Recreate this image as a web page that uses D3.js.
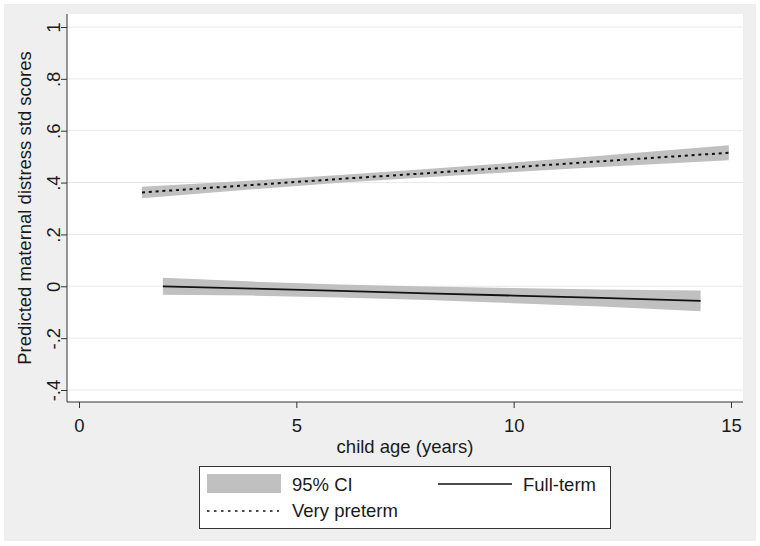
<!DOCTYPE html>
<html>
<head>
<meta charset="utf-8">
<script src="https://cdn.jsdelivr.net/npm/d3@7"></script>
<style>
  body { margin: 0; background: #fff; }
  svg text { font-family: "Liberation Sans", Arial, sans-serif; fill: #1a1a1a; }
</style>
</head>
<body>
<svg id="chart" width="760" height="546"></svg>
<script>
const svg = d3.select("#chart");

// Very preterm: predicted score and 95% CI by child age
const agePre = [1.45, 4, 6, 8, 10, 12, 14.95];
const estPre = [0.362, 0.391, 0.414, 0.436, 0.459, 0.482, 0.515];
const loPre  = [0.340, 0.374, 0.399, 0.421, 0.441, 0.460, 0.486];
const hiPre  = [0.384, 0.408, 0.429, 0.452, 0.477, 0.503, 0.544];

// Full-term
const ageFull = [1.93, 4, 6, 8, 10, 12, 14.3];
const estFull = [0.000, -0.009, -0.018, -0.027, -0.036, -0.045, -0.056];
const loFull  = [-0.033, -0.036, -0.043, -0.053, -0.065, -0.078, -0.096];
const hiFull  = [0.033, 0.018, 0.007, -0.001, -0.007, -0.012, -0.016];

const xTicks = [0, 5, 10, 15];
const yTicks = [-0.4, -0.2, 0, 0.2, 0.4, 0.6, 0.8, 1];
const yTickLabels = ["-.4", "-.2", "0", ".2", ".4", ".6", ".8", "1"];

const plot = { left: 67, right: 743, top: 14, bottom: 402 };

const x = d3.scaleLinear().domain([0, 15]).range([79, 731]);
const y = d3.scaleLinear().domain([-0.4, 1]).range([390, 27]);

// outer gray graph region
svg.append("rect")
    .attr("x", 4).attr("y", 4)
    .attr("width", 752).attr("height", 537)
    .attr("fill", "#efefef");

// white plot region
svg.append("rect")
    .attr("x", plot.left).attr("y", plot.top)
    .attr("width", plot.right - plot.left).attr("height", plot.bottom - plot.top)
    .attr("fill", "#fff");

// gridlines
svg.append("g").selectAll("line")
    .data(yTicks)
    .join("line")
    .attr("x1", plot.left).attr("x2", plot.right)
    .attr("y1", d => y(d)).attr("y2", d => y(d))
    .attr("stroke", "#e8e8e8")
    .attr("stroke-width", 1);

function bandData(ages, lo, hi) {
    return ages.map((a, i) => ({ a: a, lo: lo[i], hi: hi[i] }));
}
function lineData(ages, est) {
    return ages.map((a, i) => ({ a: a, v: est[i] }));
}

const area = d3.area()
    .x(d => x(d.a))
    .y0(d => y(d.lo))
    .y1(d => y(d.hi));

const line = d3.line()
    .x(d => x(d.a))
    .y(d => y(d.v));

// CI bands
svg.append("path")
    .datum(bandData(agePre, loPre, hiPre))
    .attr("d", area)
    .attr("fill", "#c0c0c0");

svg.append("path")
    .datum(bandData(ageFull, loFull, hiFull))
    .attr("d", area)
    .attr("fill", "#c0c0c0");

// fitted lines
svg.append("path")
    .datum(lineData(ageFull, estFull))
    .attr("d", line)
    .attr("fill", "none")
    .attr("stroke", "#111")
    .attr("stroke-width", 1.8);

svg.append("path")
    .datum(lineData(agePre, estPre))
    .attr("d", line)
    .attr("fill", "none")
    .attr("stroke", "#111")
    .attr("stroke-width", 2)
    .attr("stroke-dasharray", "3,3.8");

// y axis
const yAxis = d3.axisLeft(y)
    .tickValues(yTicks)
    .tickSize(6)
    .tickFormat((d, i) => yTickLabels[i]);

const gy = svg.append("g")
    .attr("transform", `translate(${plot.left},0)`)
    .call(yAxis);
gy.select(".domain").attr("d", `M0,${plot.top}V${plot.bottom}`).attr("stroke", "#333");
gy.selectAll(".tick line").attr("stroke", "#333");
gy.selectAll(".tick text")
    .attr("x", null).attr("dy", null)
    .attr("text-anchor", "middle")
    .attr("transform", "translate(-7,0) rotate(-90)")
    .style("font-size", "18.5px")
    .style("font-family", "Liberation Sans, Arial, sans-serif")
    .attr("fill", "#1a1a1a");

// x axis
const xAxis = d3.axisBottom(x)
    .tickValues(xTicks)
    .tickSize(6)
    .tickFormat(d3.format("d"));

const gx = svg.append("g")
    .attr("transform", `translate(0,${plot.bottom})`)
    .call(xAxis);
gx.select(".domain").attr("d", `M${plot.left},0H${plot.right}`).attr("stroke", "#333");
gx.selectAll(".tick line").attr("stroke", "#333");
gx.selectAll(".tick text")
    .attr("y", 30).attr("dy", null)
    .style("font-size", "18.5px")
    .style("font-family", "Liberation Sans, Arial, sans-serif")
    .attr("fill", "#1a1a1a");

// axis titles
svg.append("text")
    .attr("x", (plot.left + plot.right) / 2 + 0)
    .attr("y", 453)
    .attr("text-anchor", "middle")
    .style("font-size", "18.5px")
    .text("child age (years)");

svg.append("text")
    .attr("transform", `translate(31,${(plot.top + plot.bottom) / 2}) rotate(-90)`)
    .attr("text-anchor", "middle")
    .style("font-size", "18.5px")
    .text("Predicted maternal distress std scores");

// legend
const legend = svg.append("g");
legend.append("rect")
    .attr("x", 199.5).attr("y", 466.5)
    .attr("width", 411).attr("height", 62)
    .attr("fill", "#fff")
    .attr("stroke", "#333")
    .attr("stroke-width", 1);

legend.append("rect")
    .attr("x", 207).attr("y", 474)
    .attr("width", 74).attr("height", 19)
    .attr("fill", "#c0c0c0");
legend.append("text")
    .attr("x", 292).attr("y", 491)
    .style("font-size", "18.5px")
    .text("95% CI");

legend.append("line")
    .attr("x1", 438).attr("x2", 512)
    .attr("y1", 484).attr("y2", 484)
    .attr("stroke", "#111")
    .attr("stroke-width", 1.5);
legend.append("text")
    .attr("x", 523).attr("y", 491)
    .style("font-size", "18.5px")
    .text("Full-term");

legend.append("line")
    .attr("x1", 207).attr("x2", 279)
    .attr("y1", 511).attr("y2", 511)
    .attr("stroke", "#111")
    .attr("stroke-width", 1.5)
    .attr("stroke-dasharray", "2.5,4.5");
legend.append("text")
    .attr("x", 292).attr("y", 517)
    .style("font-size", "18.5px")
    .text("Very preterm");
</script>
</body>
</html>
